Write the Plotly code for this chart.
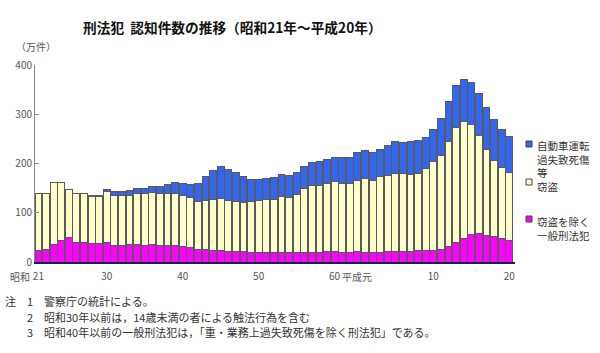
import plotly.graph_objects as go

# Years: Showa 21 (1946) ... Heisei 20 (2008); index 0..62
years = list(range(1946, 2009))

# unit: 10,000 cases (万件)
general = [23, 25, 35, 43, 49, 39, 39, 38, 37, 39,
           34, 34, 36, 35, 34, 35, 34, 32.5, 32.5, 31,
           30.4, 26.4, 25.7, 24.3, 23, 21.6, 21.6, 21.6, 19.6, 19.6,
           19.6, 19.6, 19.6, 19.6, 20.3, 20.3, 20.3, 20.3, 21.6, 22.3,
           20.3, 20.3, 21, 18.3, 19.6, 20.3, 21, 21.6, 21.6, 21,
           23, 23, 24.3, 25.7, 31, 40, 47.3, 56, 58.8, 54.8,
           52.7, 48, 44.6]
theft = [117, 114, 126, 118, 99, 101, 100, 96, 97, 105,
         102, 101.5, 100, 104, 105, 106, 105, 106, 106.7, 105,
         100.6, 96.6, 99.3, 101.7, 105, 102.4, 101.4, 98.4, 102.4, 105.4,
         106.8, 108.2, 114.4, 110.4, 116.7, 128.4, 134.2, 135.6, 138.4, 142,
         139.7, 139.7, 145, 150.3, 146.4, 152.3, 154, 158.9, 157.4, 157.5,
         157.5, 167, 179.7, 190.7, 214.6, 234, 238, 224, 197.8, 173.2,
         154.3, 143.4, 138]
traffic = [0, 0, 0, 0, 0, 0, 1, 1, 2, 4,
           7, 7.5, 9, 11, 11, 13, 14, 18.5, 22.4, 24,
           27, 37, 49, 59, 66, 64, 59, 54, 46, 43,
           43.6, 43.2, 44, 45, 45, 44.3, 47.5, 48.1, 49, 48.7,
           53, 53, 56, 58.4, 57, 56.4, 62, 63.5, 64, 65.5,
           66.5, 62, 65.6, 74.6, 81, 85, 85.2, 85, 86.4, 85,
           81.7, 78.2, 71.4]

tick_idx = [0, 9, 19, 29, 39, 52, 62]
tick_text = ["21", "30", "40", "50", "60", "10", "20"]

series_names = ["窃盗を除く一般刑法犯", "窃盗", "自動車運転過失致死傷等"]
colors = ["#ff00ff", "#ffffcc", "#3366ee"]

x = list(range(len(years)))
fig = go.Figure()
for name, vals, col in zip(series_names, [general, theft, traffic], colors):
    fig.add_trace(go.Bar(x=x, y=vals, name=name,
                         marker=dict(color=col, line=dict(color="#5a5a5a", width=1)),
                         showlegend=False))

L, R, T, B = 35, 85, 65, 91
W, H = 600, 353
pw, ph = W - L - R, H - T - B

def px(xp):
    return (xp - L) / pw

def py(yp):
    return (H - B - yp) / ph

fig.update_layout(
    width=W, height=H,
    barmode="stack", bargap=0.1,
    margin=dict(l=L, r=R, t=T, b=B),
    paper_bgcolor="white", plot_bgcolor="white",
    font=dict(family="Noto Sans CJK JP", size=10, color="#555555"),
    title=dict(text="<b>刑法犯  認知件数の推移（昭和21年～平成20年）</b>",
               x=83 / W, xref="container", xanchor="left",
               y=1 - 28 / H, yref="container", yanchor="middle",
               font=dict(size=13.7, color="#111111")),
    xaxis=dict(range=[-0.45, 62.75], tickmode="array", tickvals=tick_idx, ticktext=tick_text,
               ticks="outside", ticklen=4, tickcolor="rgba(0,0,0,0)",
               showline=True, linecolor="#1a1a5e", linewidth=2, showgrid=False, zeroline=False,
               tickfont=dict(size=10, color="#555555")),
    yaxis=dict(range=[0, 400], tickvals=[0, 100, 200, 300, 400], ticks="inside", ticklen=4,
               tickcolor="#888888", showline=True, linecolor="#888888", linewidth=1,
               showgrid=False, zeroline=False, tickfont=dict(size=10, color="#555555")),
)

ann = []
def A(text, xp, yp, xanchor="left", yanchor="middle", size=10, color="#555555"):
    ann.append(dict(text=text, x=px(xp), y=py(yp), xref="paper", yref="paper",
                    xanchor=xanchor, yanchor=yanchor, showarrow=False,
                    font=dict(size=size, color=color), align="left"))

A("（万件）", 14, 46, size=10)
A("昭和", 32, 276, xanchor="right", size=10)
A("平成元", 340, 276, size=10)

# legend (manual): squares + text
legend_sq = [("#3366ee", 144), ("#ffffcc", 182), ("#ff00ff", 219)]
shapes = []
for col, yc in legend_sq:
    shapes.append(dict(type="rect", xref="paper", yref="paper",
                       x0=px(526), x1=px(532), y0=py(yc + 3), y1=py(yc - 3),
                       fillcolor=col, line=dict(color="#444444", width=1)))
A("自動車運転<br>過失致死傷<br>等<br>窃盗", 535, 136, yanchor="top", size=10.5, color="#333333")
A("窃盗を除く<br>一般刑法犯", 535, 212, yanchor="top", size=10.5, color="#333333")

notes = [("1", "警察庁の統計による。"),
         ("2", "昭和30年以前は，14歳未満の者による触法行為を含む"),
         ("3", "昭和40年以前の一般刑法犯は，「重・業務上過失致死傷を除く刑法犯」である。")]
A("注", 3, 301, size=11, color="#333333")
for k, (num, txt) in enumerate(notes):
    yy = 301 + k * 15.5
    A(num, 25, yy, size=11, color="#333333")
    A(txt, 42, yy, size=11, color="#333333")

fig.update_layout(annotations=ann, shapes=shapes)
fig.write_html("out.html")
